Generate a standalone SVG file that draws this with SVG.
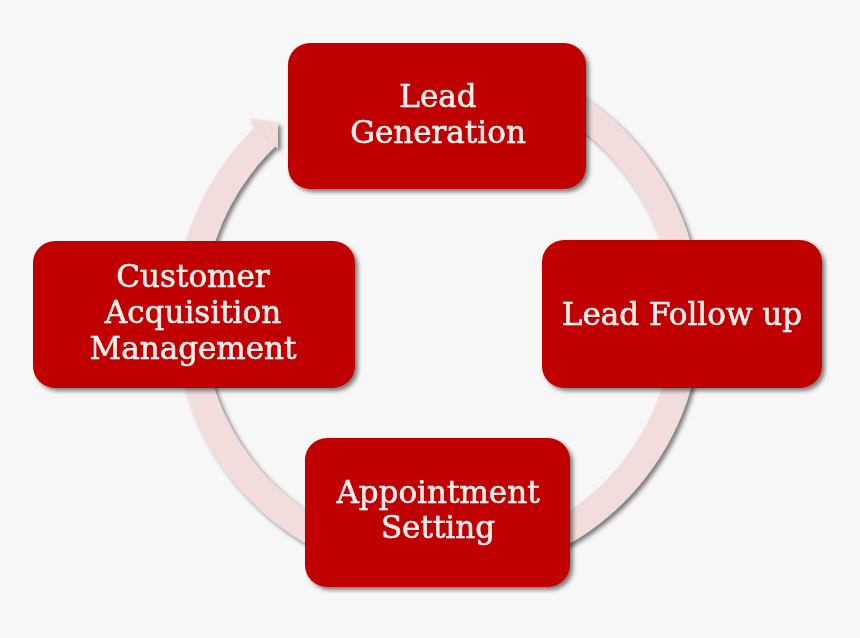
<svg xmlns="http://www.w3.org/2000/svg" width="860" height="638" viewBox="0 0 860 638">
<style>
.box{fill:#c00000}
.lbl{font-family:"DejaVu Serif","Liberation Serif",serif;font-size:31px;fill:#f2eeee;stroke:#f2eeee;stroke-width:0.6;text-anchor:middle}
.band{fill:none;stroke:#f3dcdc;stroke-width:28}
</style>
<defs>
<filter id="sh" x="-10%" y="-10%" width="130%" height="130%">
<feGaussianBlur in="SourceAlpha" stdDeviation="2"/>
<feOffset dx="3" dy="3" result="b"/>
<feComponentTransfer><feFuncA type="linear" slope="0.5"/></feComponentTransfer>
<feMerge><feMergeNode/><feMergeNode in="SourceGraphic"/></feMerge>
</filter>
<clipPath id="hc"><rect x="0" y="0" width="278" height="638"/></clipPath>
</defs>
<rect width="860" height="638" fill="#f7f7f7"/>
<g id="connectors" filter="url(#sh)">
<path class="band" d="M562.5,100.4 A249,249 0 1 1 265.9,136.0"/>
<polygon points="249,118 300,127 283,154" fill="#f3dcdc" clip-path="url(#hc)"/>
</g>
<g id="lead-generation" filter="url(#sh)">
<rect class="box" x="288" y="43" width="298" height="146" rx="22"/>
<text class="lbl" x="438" y="107">Lead</text>
<text class="lbl" x="438" y="143">Generation</text>
</g>
<g id="lead-follow-up" filter="url(#sh)">
<rect class="box" x="542" y="240" width="280" height="148" rx="22"/>
<text class="lbl" x="682" y="325">Lead Follow up</text>
</g>
<g id="appointment-setting" filter="url(#sh)">
<rect class="box" x="305" y="438" width="265" height="149" rx="22"/>
<text class="lbl" x="438" y="503">Appointment</text>
<text class="lbl" x="438" y="538">Setting</text>
</g>
<g id="customer-acquisition" filter="url(#sh)">
<rect class="box" x="33" y="241" width="322" height="147" rx="22"/>
<text class="lbl" x="193" y="287">Customer</text>
<text class="lbl" x="193" y="323">Acquisition</text>
<text class="lbl" x="193" y="359">Management</text>
</g>
</svg>
